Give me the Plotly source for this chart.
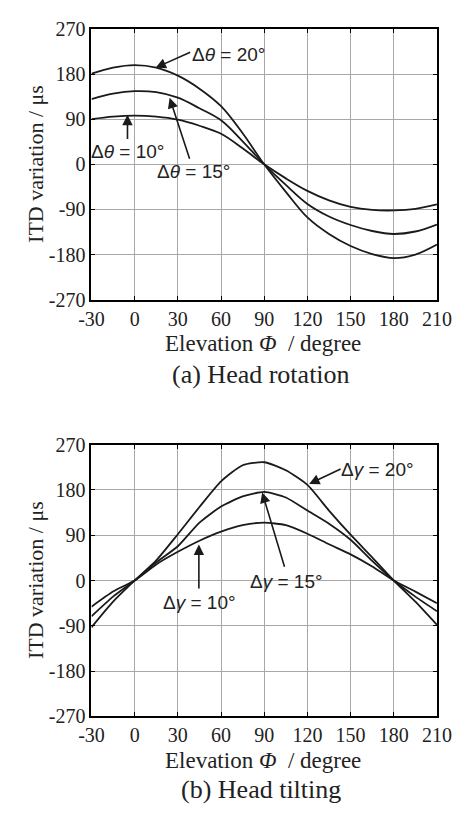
import plotly.graph_objects as go

# ---------------- data ----------------
elev = [-30, -15, 0, 15, 30, 45, 60, 75, 90, 105, 120, 135, 150, 165, 180, 195, 210]

rot_10 = [90, 95, 97, 95, 89, 77, 61, 32, 0, -28, -53, -72, -85, -91, -92, -89, -80]
rot_15 = [130, 141, 146, 144, 133, 112, 88, 46, 0, -41, -79, -104, -121, -133, -139, -134, -120]
rot_20 = [181, 193, 198, 193, 177, 151, 116, 62, 0, -55, -106, -139, -163, -179, -187, -180, -160]

tilt_10 = [-52, -22, 0, 32, 57, 79, 97, 110, 115, 110, 93, 72, 52, 28, 0, -22, -45]
tilt_15 = [-71, -32, 0, 36, 68, 115, 147, 167, 176, 165, 139, 113, 81, 39, 0, -32, -61]
tilt_20 = [-93, -42, 0, 40, 92, 146, 197, 229, 235, 219, 190, 139, 91, 46, 0, -42, -88]

x_ticks = [-30, 0, 30, 60, 90, 120, 150, 180, 210]
x_tick_labels = ["-30", "0", "30", "60", "90", "120", "150", "180", "210"]
y_ticks = [-270, -180, -90, 0, 90, 180, 270]
y_tick_labels = ["-270", "-180", "-90", "0", "90", "180", "270"]

# ---------------- figure ----------------
W, H = 467, 813
SERIF = "Liberation Serif, Times New Roman, serif"
SANS = "Liberation Sans, Arial, sans-serif"
LINE = dict(color="#1a1a1a", width=1.8)

fig = go.Figure()
for ys in (rot_10, rot_15, rot_20):
    fig.add_trace(go.Scatter(x=elev, y=ys, mode="lines", line=dict(**LINE, shape="spline", smoothing=1.0),
                             xaxis="x", yaxis="y", showlegend=False, hoverinfo="skip"))
for ys in (tilt_10, tilt_15, tilt_20):
    fig.add_trace(go.Scatter(x=elev, y=ys, mode="lines", line=dict(**LINE, shape="spline", smoothing=0.6),
                             xaxis="x2", yaxis="y2", showlegend=False, hoverinfo="skip"))

xl, xr = 83.5 / W, 451 / W
top_dom = [1 - 296.7 / H, 1 - 18.5 / H]
bot_dom = [1 - 725 / H, 1 - 445.7 / H]

axis_common = dict(
    showline=True, linecolor="black", linewidth=2, mirror="ticks",
    ticks="inside", ticklen=4, tickwidth=1, tickcolor="black",
    showgrid=True, gridcolor="#a8a8a8", gridwidth=1, zeroline=False,
    tickfont=dict(family=SERIF, size=20, color="#222"),
)

fig.update_layout(
    width=W, height=H,
    margin=dict(l=0, r=0, t=0, b=0),
    paper_bgcolor="white", plot_bgcolor="white",
    xaxis=dict(domain=[xl, xr], range=[-30, 210], tickvals=x_ticks, ticktext=x_tick_labels,
               anchor="y", **axis_common),
    yaxis=dict(domain=top_dom, range=[-270, 270], tickvals=y_ticks, ticktext=y_tick_labels,
               anchor="x", **axis_common),
    xaxis2=dict(domain=[xl, xr], range=[-30, 210], tickvals=x_ticks, ticktext=x_tick_labels,
                anchor="y2", **axis_common),
    yaxis2=dict(domain=bot_dom, range=[-270, 270], tickvals=y_ticks, ticktext=y_tick_labels,
                anchor="x2", **axis_common),
)

ann = []
# axis titles & captions
for yc, xt, cap_y, cap in ((1 - 157.6 / H, 1 - 341.7 / H, 1 - 373.3 / H, "(a) Head rotation"),
                           (1 - 585.35 / H, 1 - 770 / H, 1 - 800 / H, "(b) Head tilting")):
    ann.append(dict(xref="paper", yref="paper", x=24 / W, y=yc, text="ITD variation / μs",
                    textangle=-90, showarrow=False, font=dict(family=SERIF, size=22, color="#222"),
                    xanchor="center", yanchor="middle"))
    ann.append(dict(xref="paper", yref="paper", x=266 / W, y=xt,
                    text="Elevation <i>Φ</i>\u00a0\u00a0/ degree", showarrow=False,
                    font=dict(family=SERIF, size=23, color="#222"), xanchor="center", yanchor="middle"))
    ann.append(dict(xref="paper", yref="paper", x=264 / W, y=cap_y, text=cap, showarrow=False,
                    font=dict(family=SERIF, size=26, color="#222"), xanchor="center", yanchor="middle"))

AF = dict(family=SANS, size=19, color="#222")

def arrow(xr_, yr_, hx, hy, tx, ty):
    return dict(xref=xr_, yref=yr_, x=hx, y=hy, ax=tx, ay=ty, axref=xr_, ayref=yr_,
                text="", showarrow=True, arrowhead=2, arrowsize=1.3, arrowwidth=1.6,
                arrowcolor="#1a1a1a")

def label(xr_, yr_, x, y, txt):
    return dict(xref=xr_, yref=yr_, x=x, y=y, text=txt, showarrow=False, font=AF,
                xanchor="center", yanchor="middle")

# top plot labels
ann += [
    arrow("x", "y", 14.5, 192.7, 39.6, 225), label("x", "y", 65.4, 218.5, "Δ<i>θ</i> = 20°"),
    arrow("x", "y", -5, 98.8, -5, 47.7), label("x", "y", -5.2, 26.4, "Δ<i>θ</i> = 10°"),
    arrow("x", "y", 24.3, 132.6, 38.5, 8.3), label("x", "y", 40.7, -14.4, "Δ<i>θ</i> = 15°"),
]
# bottom plot labels
ann += [
    arrow("x2", "y2", 121.2, 192, 144.1, 223), label("x2", "y2", 168.9, 219.7, "Δ<i>γ</i> = 20°"),
    arrow("x2", "y2", 88.6, 174.7, 104.4, 24.5), label("x2", "y2", 105.5, -1.3, "Δ<i>γ</i> = 15°"),
    arrow("x2", "y2", 44.6, 71.6, 44.6, -18.7), label("x2", "y2", 44.8, -43.8, "Δ<i>γ</i> = 10°"),
]
fig.update_layout(annotations=ann)

fig.write_html("out.html", config={"displayModeBar": False},
               post_script="document.body.style.margin='0';document.body.style.overflow='hidden';")
